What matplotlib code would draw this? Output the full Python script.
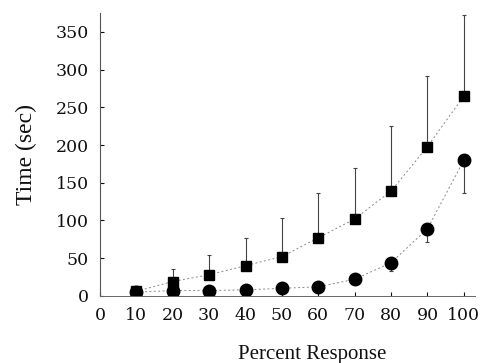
import matplotlib
matplotlib.use("Agg")
import matplotlib.pyplot as plt
import numpy as np

percent = [10, 20, 30, 40, 50, 60, 70, 80, 90, 100]
square_mean = [6, 19, 28, 40, 52, 77, 102, 139, 198, 265]
square_err_up = [2, 17, 26, 37, 51, 60, 68, 86, 94, 107]
circle_mean = [5, 7, 7, 8, 10, 12, 22, 44, 89, 180]
circle_err_down = [0, 0, 0, 0, 0, 3, 5, 11, 17, 43]
xticks = [0, 10, 20, 30, 40, 50, 60, 70, 80, 90, 100]
yticks = [0, 50, 100, 150, 200, 250, 300, 350]

plt.rcParams['font.family'] = ['DejaVu Serif']
fig = plt.figure(figsize=(4.85, 3.63), dpi=100)
ax = fig.add_axes([0.206, 0.185, 0.773, 0.779])

n = len(percent)
ax.errorbar(percent, square_mean, yerr=[np.zeros(n), square_err_up], fmt='none',
            ecolor='#444444', elinewidth=0.8, capsize=1.5, capthick=0.8)
ax.errorbar(percent, circle_mean, yerr=[circle_err_down, np.zeros(n)], fmt='none',
            ecolor='#444444', elinewidth=0.8, capsize=1.5, capthick=0.8)
ax.plot(percent, square_mean, linestyle=(0, (2, 2.5)), color='#888888', linewidth=0.7,
        marker='s', markersize=7, markerfacecolor='black', markeredgecolor='black')
ax.plot(percent, circle_mean, linestyle=(0, (2, 2.5)), color='#888888', linewidth=0.7,
        marker='o', markersize=9, markerfacecolor='black', markeredgecolor='black')

ax.set_xlim(0, 103)
ax.set_ylim(0, 375)
ax.set_xticks(xticks)
ax.set_yticks(yticks)
ax.tick_params(direction='in', length=3, width=0.8, labelsize=12.5, pad=8, colors='#111111')
for s in ['top', 'right']:
    ax.spines[s].set_visible(False)
ax.spines['left'].set_color('#555555')
ax.spines['bottom'].set_color('#666666')
ax.spines['left'].set_linewidth(0.8)
ax.spines['bottom'].set_linewidth(0.7)
ax.set_xlabel('Percent Response', fontsize=15, color='#111111',
              family=['Liberation Serif'])
ax.set_ylabel('Time (sec)', fontsize=17, color='#111111',
              family=['Liberation Serif'])
ax.xaxis.set_label_coords(0.565, -0.175)
ax.yaxis.set_label_coords(-0.168, 0.5)

fig.savefig('out.png', dpi=100)
